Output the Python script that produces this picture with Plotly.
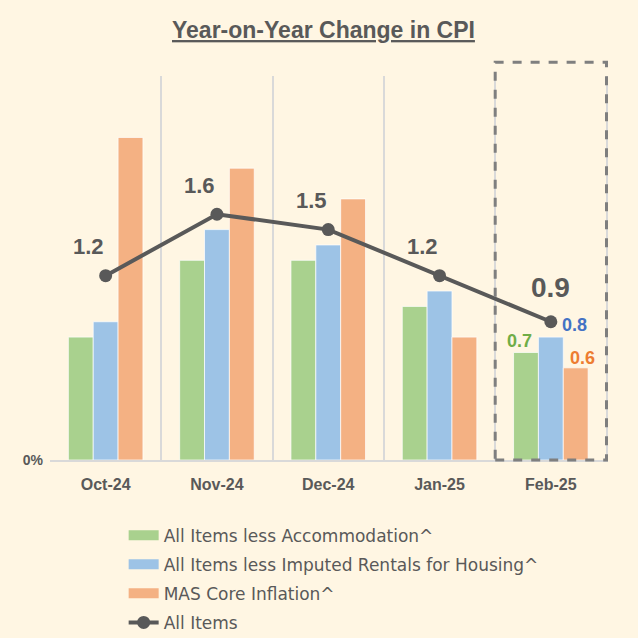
import plotly.graph_objects as go

months = ["Oct-24", "Nov-24", "Dec-24", "Jan-25", "Feb-25"]
less_accom = [0.8, 1.3, 1.3, 1.0, 0.7]
less_rentals = [0.9, 1.5, 1.4, 1.1, 0.8]
mas_core = [2.1, 1.9, 1.7, 0.8, 0.6]
all_items = [1.2, 1.6, 1.5, 1.2, 0.9]

names = ["All Items less Accommodation^", "All Items less Imputed Rentals for Housing^",
         "MAS Core Inflation^", "All Items"]
bar_colors = ["#A9D18E", "#9DC3E6", "#F4B183"]
label_colors = ["#70AD47", "#4472C4", "#ED7D31"]
GRAY = "#595959"
BG = "#FFF6E3"

fig = go.Figure()
for vals, nm, col in zip([less_accom, less_rentals, mas_core], names[:3], bar_colors):
    fig.add_trace(go.Bar(x=months, y=vals, name=nm, marker_color=col, showlegend=False,
                         marker_line=dict(color="rgba(255,255,255,0.7)", width=1)))

# legend swatches (wide rectangles like the original)
for i, (nm, col) in enumerate(zip(names[:3], bar_colors)):
    fig.add_trace(go.Scatter(x=[None], y=[None], mode="lines", name=nm, legendgroup=f"g{i}",
                             line=dict(color=col, width=11)))

fig.add_trace(go.Scatter(
    x=months, y=all_items, name=names[3], mode="lines+markers", legendgroup="g3",
    line=dict(color=GRAY, width=4), marker=dict(size=13, color=GRAY),
))

# All Items labels
last = len(months) - 1
for i, (m, v) in enumerate(zip(months, all_items)):
    big = i == last
    fig.add_annotation(x=m, y=v, text=f"<b>{v:.1f}</b>", showarrow=False,
                       xshift=0 if big else -17, yshift=34 if big else 29,
                       xanchor="center", yanchor="middle",
                       font=dict(family="Liberation Sans", size=28 if big else 22, color=GRAY))

# Feb-25 bar labels
shifts = [(-31, 11), (24, 12), (32, 10)]
for vals, col, (xs, ys) in zip([less_accom, less_rentals, mas_core], label_colors, shifts):
    fig.add_annotation(x=months[last], y=vals[last], text=f"<b>{vals[last]:.1f}</b>",
                       showarrow=False, xshift=xs, yshift=ys, yanchor="middle",
                       font=dict(family="Liberation Sans", size=18, color=col))

# dashed highlight box around latest month
fig.add_shape(type="rect", xref="x", yref="paper", x0=last - 0.5, x1=last + 0.5,
              y0=0, y1=1.036, line=dict(color="#7F7F7F", width=3, dash="dash"))

fig.update_layout(
    width=638, height=638,
    margin=dict(l=50, r=30, t=76, b=178, autoexpand=False),
    paper_bgcolor=BG, plot_bgcolor=BG,
    barmode="group", bargap=0.33, bargroupgap=0,
    title=dict(text="<b><u>Year-on-Year Change in CPI</u></b>", x=0.507, xanchor="center",
               y=0.953, yanchor="middle",
               font=dict(family="Liberation Sans", size=23, color=GRAY)),
    xaxis=dict(showgrid=True, gridcolor="#D9D9D9", gridwidth=2, tickson="boundaries",
               ticks="", showline=True, linecolor="#D9D9D9", linewidth=2, ticklabelstandoff=9,
               tickfont=dict(family="Liberation Sans", size=16, color=GRAY, weight="bold")),
    yaxis=dict(range=[0, 2.5], showgrid=False, zeroline=False, tickvals=[0], ticktext=["0%"],
               ticks="", ticklabelstandoff=6,
               tickfont=dict(family="Liberation Sans", size=14, color=GRAY, weight="bold")),
    legend=dict(x=0.132, y=-0.15, xanchor="left", yanchor="top", orientation="v",
                font=dict(family="DejaVu Sans", size=17, color=GRAY), bgcolor="rgba(0,0,0,0)",
                tracegroupgap=4, traceorder="grouped"),
    showlegend=True,
)
fig.write_html("out.html")
